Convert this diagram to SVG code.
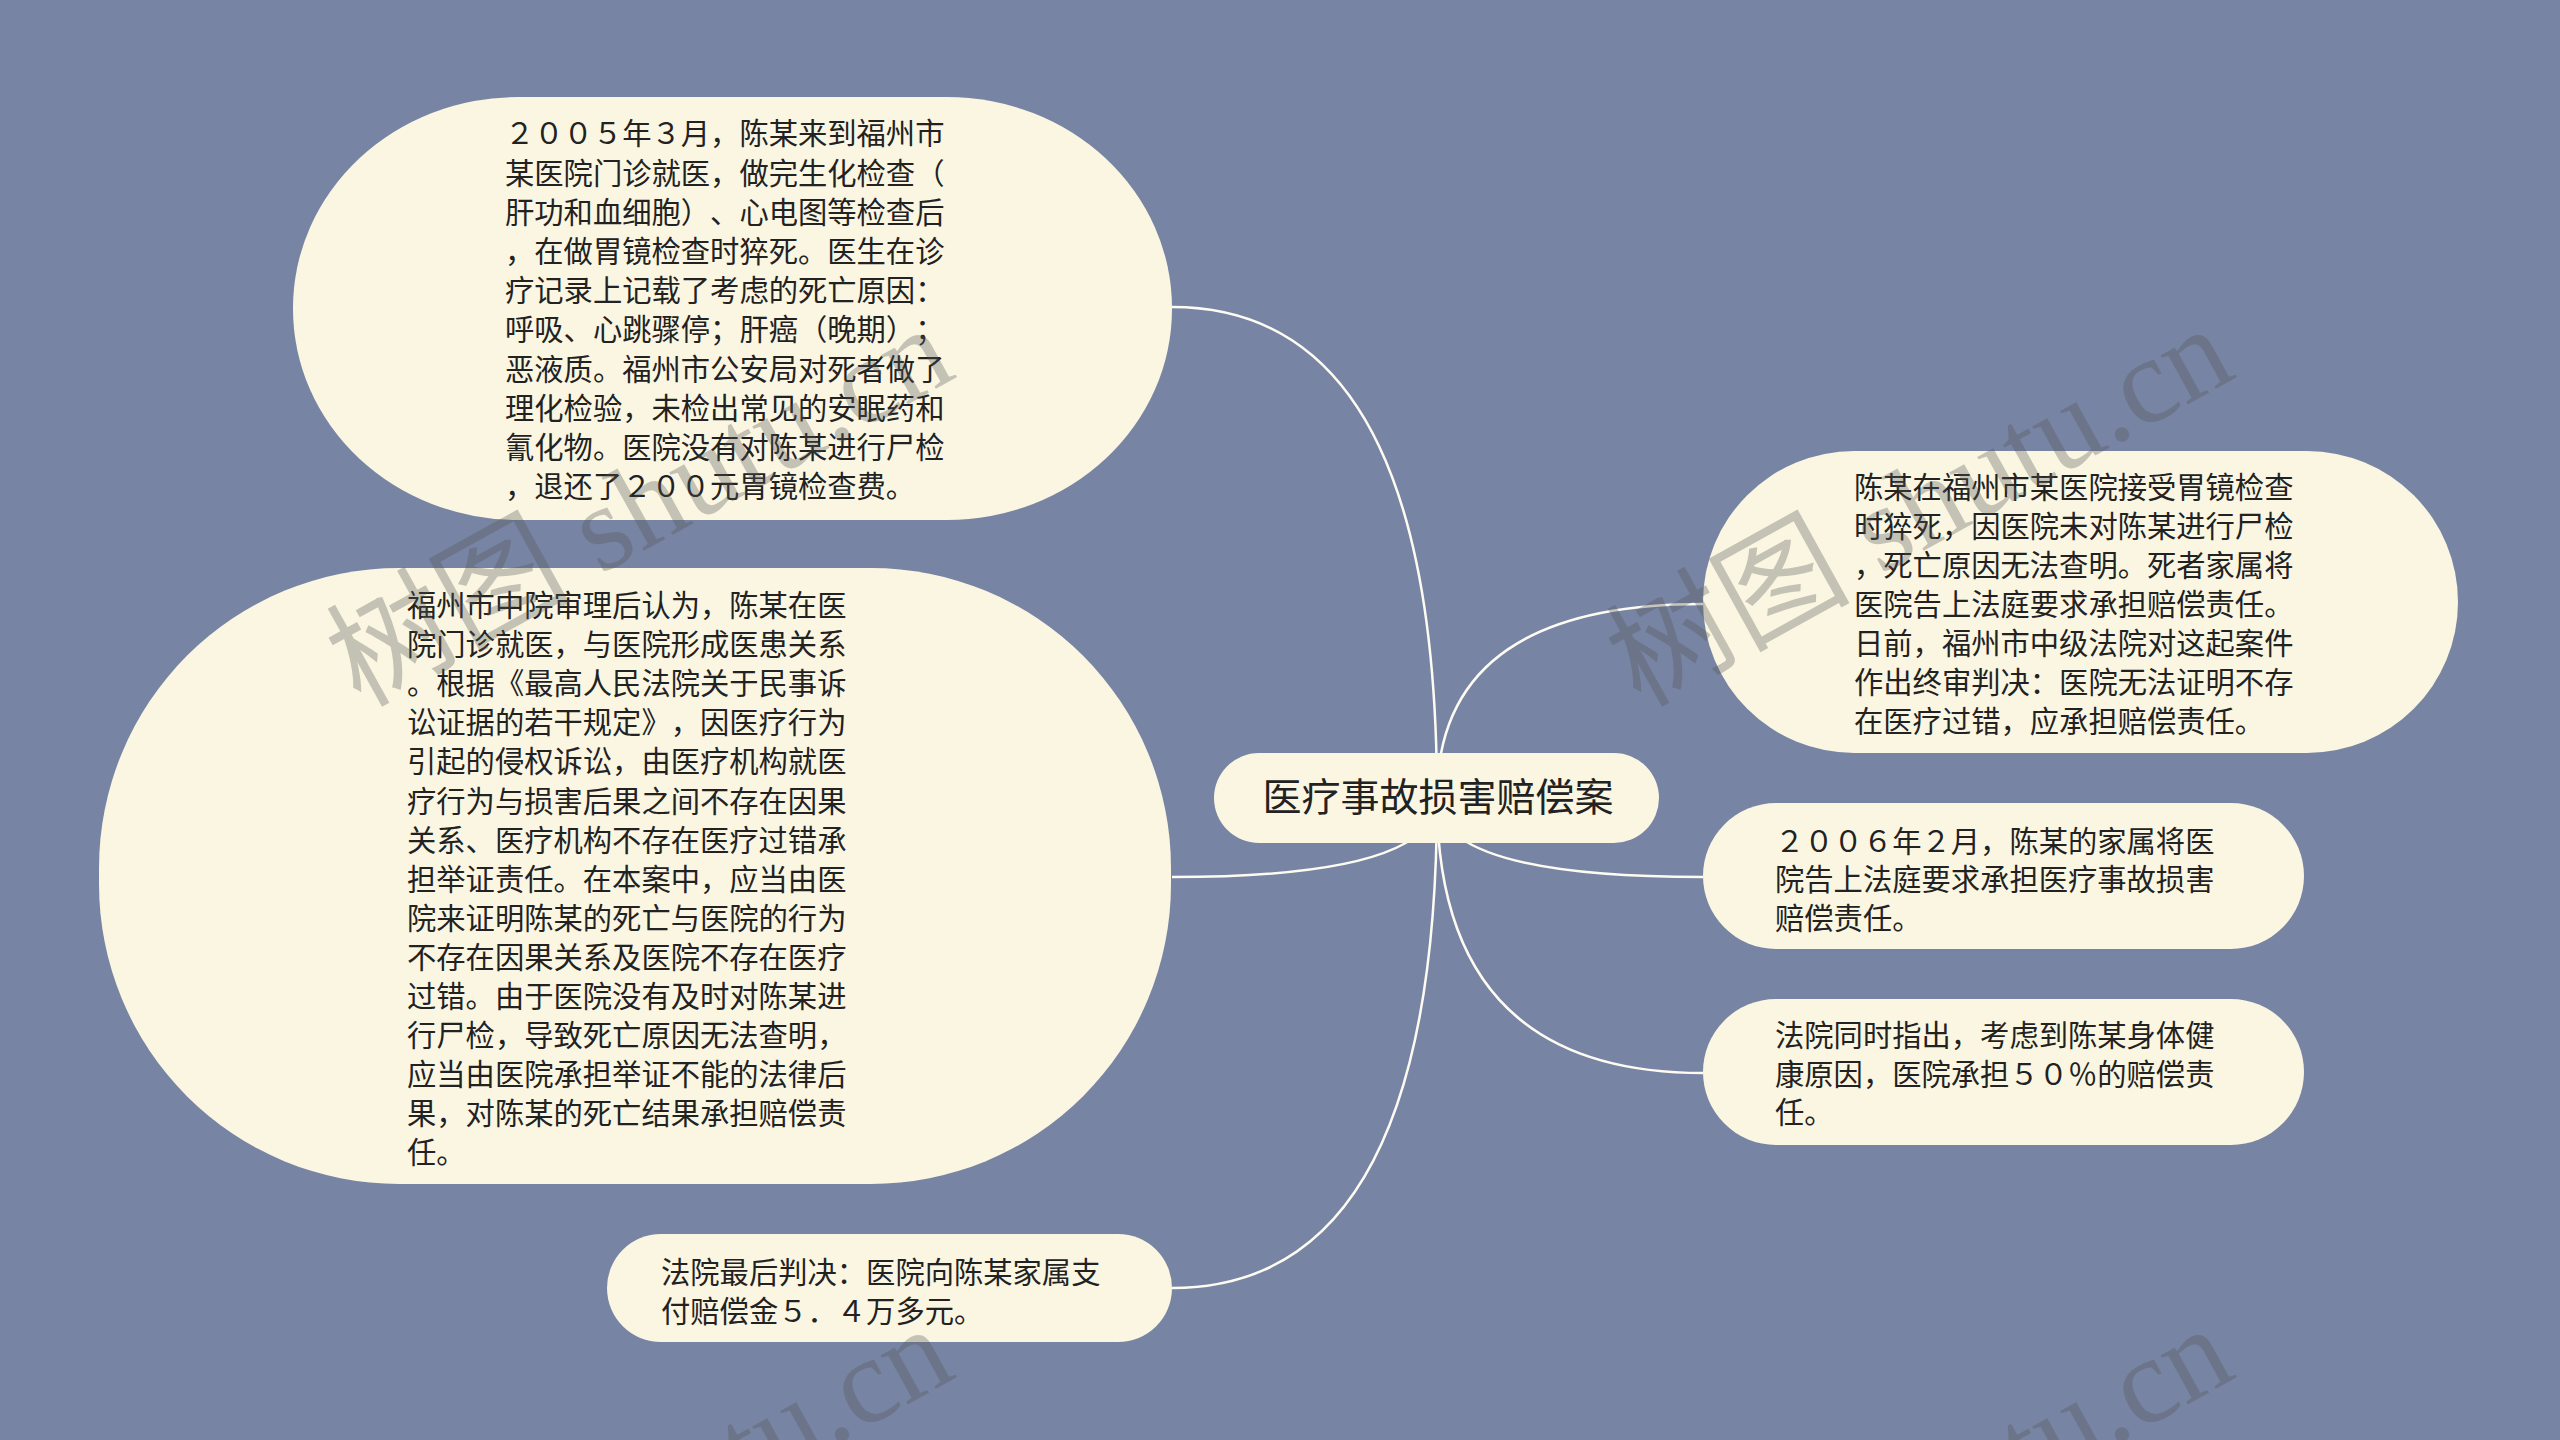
<svg xmlns="http://www.w3.org/2000/svg" width="2560" height="1440" viewBox="0 0 2560 1440">
<style>
.node rect{fill:#faf6e2;}
.t{font-family:"Noto Sans CJK SC","Noto Sans",sans-serif;font-size:29.3px;fill:#222;text-spacing-trim:space-all;}
.root{font-family:"Noto Sans CJK SC","Noto Sans",sans-serif;font-size:39px;fill:#222;text-anchor:middle;}
.conn path{fill:none;stroke:#fdfbf2;stroke-width:2.5;}
.wm{font-family:"Liberation Serif","Noto Sans CJK SC",serif;font-size:122px;fill:#555;fill-opacity:0.32;}
</style>
<rect x="0" y="0" width="2560" height="1440" fill="#7784a3"/>
<g id="connectors" class="conn">
<path d="M1437,798 Q1437,307 1172,307"/>
<path d="M1437,798 Q1437,877 1172,877"/>
<path d="M1437,798 Q1437,1288 1172,1288"/>
<path d="M1437,798 Q1437,604 1703,604"/>
<path d="M1437,798 Q1437,877 1703,877"/>
<path d="M1437,798 Q1437,1073 1703,1073"/>
</g>
<g id="root" class="node">
<rect x="1214" y="753" width="445" height="90" rx="45" ry="45"/>
<text class="root" x="1438" y="811">医疗事故损害赔偿案</text>
</g>
<g id="node1" class="node">
<rect x="293" y="97" width="879" height="423" rx="225" ry="211"/>
<text class="t" x="505">
<tspan x="505" y="144.3">２００５年３月，陈某来到福州市</tspan>
<tspan x="505" y="183.5">某医院门诊就医，做完生化检查（</tspan>
<tspan x="505" y="222.7">肝功和血细胞）、心电图等检查后</tspan>
<tspan x="505" y="261.9">，在做胃镜检查时猝死。医生在诊</tspan>
<tspan x="505" y="301.1">疗记录上记载了考虑的死亡原因：</tspan>
<tspan x="505" y="340.3">呼吸、心跳骤停；肝癌（晚期）；</tspan>
<tspan x="505" y="379.5">恶液质。福州市公安局对死者做了</tspan>
<tspan x="505" y="418.7">理化检验，未检出常见的安眠药和</tspan>
<tspan x="505" y="457.9">氰化物。医院没有对陈某进行尸检</tspan>
<tspan x="505" y="497.1">，退还了２００元胃镜检查费。</tspan>
</text>
</g>
<g id="node2" class="node">
<rect x="99" y="568" width="1072" height="616" rx="300" ry="300"/>
<text class="t" x="407">
<tspan x="407" y="616">福州市中院审理后认为，陈某在医</tspan>
<tspan x="407" y="655.1">院门诊就医，与医院形成医患关系</tspan>
<tspan x="407" y="694.2">。根据《最高人民法院关于民事诉</tspan>
<tspan x="407" y="733.3">讼证据的若干规定》，因医疗行为</tspan>
<tspan x="407" y="772.4">引起的侵权诉讼，由医疗机构就医</tspan>
<tspan x="407" y="811.5">疗行为与损害后果之间不存在因果</tspan>
<tspan x="407" y="850.6">关系、医疗机构不存在医疗过错承</tspan>
<tspan x="407" y="889.7">担举证责任。在本案中，应当由医</tspan>
<tspan x="407" y="928.8">院来证明陈某的死亡与医院的行为</tspan>
<tspan x="407" y="967.9">不存在因果关系及医院不存在医疗</tspan>
<tspan x="407" y="1007">过错。由于医院没有及时对陈某进</tspan>
<tspan x="407" y="1046.1">行尸检，导致死亡原因无法查明，</tspan>
<tspan x="407" y="1085.2">应当由医院承担举证不能的法律后</tspan>
<tspan x="407" y="1124.3">果，对陈某的死亡结果承担赔偿责</tspan>
<tspan x="407" y="1163.4">任。</tspan>
</text>
</g>
<g id="node3" class="node">
<rect x="607" y="1234" width="565" height="108" rx="54" ry="54"/>
<text class="t" x="661">
<tspan x="661" y="1282.5">法院最后判决：医院向陈某家属支</tspan>
<tspan x="661" y="1321.7">付赔偿金５．４万多元。</tspan>
</text>
</g>
<g id="node4" class="node">
<rect x="1703" y="451" width="755" height="302" rx="151" ry="151"/>
<text class="t" x="1854">
<tspan x="1854" y="497.7">陈某在福州市某医院接受胃镜检查</tspan>
<tspan x="1854" y="536.7">时猝死，因医院未对陈某进行尸检</tspan>
<tspan x="1854" y="575.7">，死亡原因无法查明。死者家属将</tspan>
<tspan x="1854" y="614.7">医院告上法庭要求承担赔偿责任。</tspan>
<tspan x="1854" y="653.7">日前，福州市中级法院对这起案件</tspan>
<tspan x="1854" y="692.7">作出终审判决：医院无法证明不存</tspan>
<tspan x="1854" y="731.7">在医疗过错，应承担赔偿责任。</tspan>
</text>
</g>
<g id="node5" class="node">
<rect x="1703" y="803" width="601" height="146" rx="73" ry="73"/>
<text class="t" x="1775">
<tspan x="1775" y="851.5">２００６年２月，陈某的家属将医</tspan>
<tspan x="1775" y="890">院告上法庭要求承担医疗事故损害</tspan>
<tspan x="1775" y="928.5">赔偿责任。</tspan>
</text>
</g>
<g id="node6" class="node">
<rect x="1703" y="999" width="601" height="146" rx="73" ry="73"/>
<text class="t" x="1775">
<tspan x="1775" y="1046">法院同时指出，考虑到陈某身体健</tspan>
<tspan x="1775" y="1085">康原因，医院承担５０％的赔偿责</tspan>
<tspan x="1775" y="1123">任。</tspan>
</text>
</g>
<g id="watermarks">
<text class="wm" x="360" y="708" transform="rotate(-29 360 708)">树图 shutu.cn</text>
<text class="wm" x="1640" y="708" transform="rotate(-29 1640 708)">树图 shutu.cn</text>
<text class="wm" x="360" y="1708" transform="rotate(-29 360 1708)">树图 shutu.cn</text>
<text class="wm" x="1640" y="1708" transform="rotate(-29 1640 1708)">树图 shutu.cn</text>
</g>
</svg>
